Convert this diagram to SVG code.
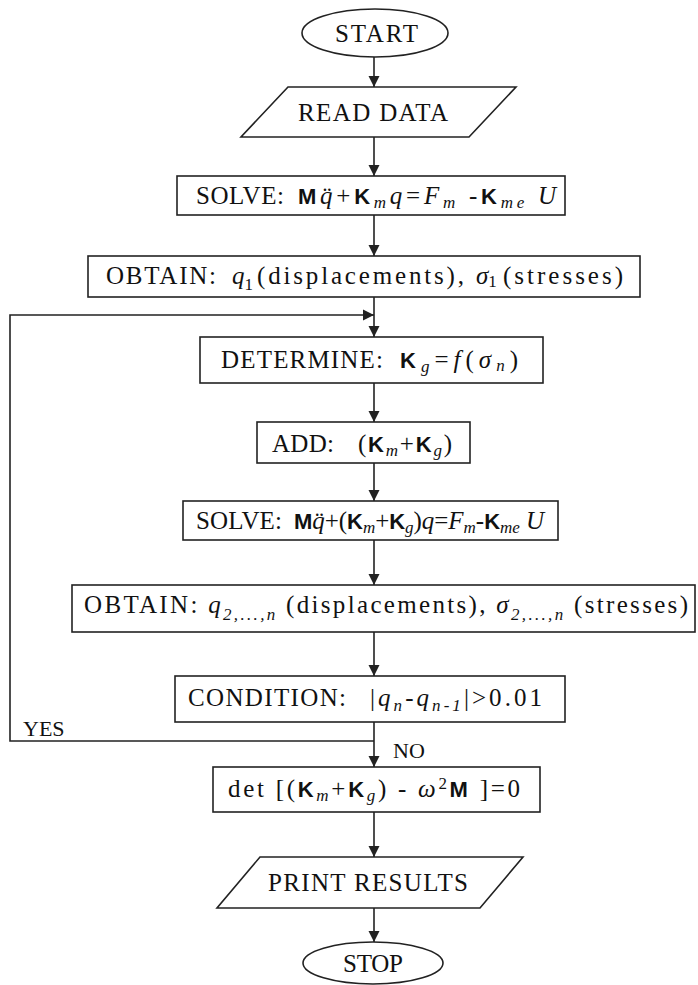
<svg xmlns="http://www.w3.org/2000/svg" width="698" height="985" viewBox="0 0 698 985">
<defs>
<marker id="ah" markerWidth="12" markerHeight="12" refX="11" refY="6" orient="auto" markerUnits="userSpaceOnUse">
<path d="M0,0.5 L11,6 L0,11.5 Z" fill="#222"/>
</marker>
<style>
.shape{fill:#fff;stroke:#222;stroke-width:1.6}
.edge{fill:none;stroke:#222;stroke-width:1.6}
.t{font-family:"Liberation Serif","Times New Roman",serif;font-size:25px;fill:#111}
.i{font-style:italic}
.b{font-family:"Liberation Sans",Arial,sans-serif;font-weight:bold;font-size:22px}
.s{font-size:17px}
.lbl{font-family:"Liberation Serif","Times New Roman",serif;font-size:22px;fill:#111}
</style>
</defs>
<rect width="698" height="985" fill="#fff"/>

<g id="connectors">
<line class="edge" x1="374" y1="57" x2="374" y2="87" marker-end="url(#ah)"/>
<line class="edge" x1="374" y1="137" x2="374" y2="176" marker-end="url(#ah)"/>
<line class="edge" x1="374" y1="215" x2="374" y2="256" marker-end="url(#ah)"/>
<line class="edge" x1="374" y1="297" x2="374" y2="337" marker-end="url(#ah)"/>
<polyline class="edge" points="374,741 10,741 10,315 374,315" marker-end="url(#ah)"/>
<line class="edge" x1="374" y1="383" x2="374" y2="422" marker-end="url(#ah)"/>
<line class="edge" x1="374" y1="463" x2="374" y2="501" marker-end="url(#ah)"/>
<line class="edge" x1="374" y1="540" x2="374" y2="585" marker-end="url(#ah)"/>
<line class="edge" x1="374" y1="632" x2="374" y2="676" marker-end="url(#ah)"/>
<line class="edge" x1="374" y1="722" x2="374" y2="767" marker-end="url(#ah)"/>
<line class="edge" x1="374" y1="812" x2="374" y2="857" marker-end="url(#ah)"/>
<line class="edge" x1="374" y1="908" x2="374" y2="942" marker-end="url(#ah)"/>
<text class="lbl" x="23" y="736">YES</text>
<text class="lbl" x="393" y="758">NO</text>
</g>

<g id="start">
<ellipse class="shape" cx="375" cy="33" rx="73" ry="24"/>
<text class="t" x="335" y="42" textLength="83" lengthAdjust="spacing">START</text>
</g>

<g id="read-data">
<polygon class="shape" points="288,87 516,87 469,137 241,137"/>
<text class="t" x="298" y="121" textLength="150" lengthAdjust="spacing">READ DATA</text>
</g>

<g id="solve1">
<rect class="shape" x="177" y="176" width="388" height="39"/>
<text class="t" x="196" y="204" textLength="88" lengthAdjust="spacing">SOLVE:</text>
<text class="t" x="298" y="204" textLength="258" lengthAdjust="spacing"><tspan class="b">M</tspan><tspan class="i">q&#x308;</tspan>+<tspan class="b">K</tspan><tspan class="i s" dy="4">m</tspan><tspan class="i" dy="-4">q</tspan>=<tspan class="i">F</tspan><tspan class="i s" dy="4">m</tspan><tspan dy="-4"> -</tspan><tspan class="b">K</tspan><tspan class="i s" dy="4">me</tspan><tspan class="i" dy="-4"> U</tspan></text>
</g>

<g id="obtain1">
<rect class="shape" x="88" y="256" width="552" height="41"/>
<text class="t" x="106" y="284" textLength="110" lengthAdjust="spacing">OBTAIN:</text>
<text class="t" x="232" y="284"><tspan class="i">q</tspan><tspan class="s" dy="6">1</tspan></text>
<text class="t" x="257" y="284" textLength="207" lengthAdjust="spacing">(displacements),</text>
<text class="t" x="476" y="284"><tspan class="i">σ</tspan><tspan class="s" dy="3">1</tspan></text>
<text class="t" x="503" y="284" textLength="120" lengthAdjust="spacing">(stresses)</text>
</g>

<g id="determine">
<rect class="shape" x="200" y="337" width="343" height="46"/>
<text class="t" x="221" y="368" textLength="162" lengthAdjust="spacing">DETERMINE:</text>
<text class="t" x="400" y="368" textLength="118" lengthAdjust="spacing"><tspan class="b">K</tspan><tspan class="i s" dy="4">g</tspan><tspan dy="-4">=</tspan><tspan class="i">f</tspan>(<tspan class="i">σ</tspan><tspan class="i s" dy="3">n</tspan><tspan dy="-3">)</tspan></text>
</g>

<g id="add">
<rect class="shape" x="257" y="422" width="213" height="41"/>
<text class="t" x="272" y="452" textLength="62" lengthAdjust="spacing">ADD:</text>
<text class="t" x="358" y="452" textLength="94" lengthAdjust="spacing">(<tspan class="b">K</tspan><tspan class="i s" dy="4">m</tspan><tspan dy="-4">+</tspan><tspan class="b">K</tspan><tspan class="i s" dy="4">g</tspan><tspan dy="-4">)</tspan></text>
</g>

<g id="solve2">
<rect class="shape" x="183" y="501" width="375" height="39"/>
<text class="t" x="196" y="529" textLength="86" lengthAdjust="spacing">SOLVE:</text>
<text class="t" x="294" y="529" textLength="250" lengthAdjust="spacing"><tspan class="b">M</tspan><tspan class="i">q&#x308;</tspan>+(<tspan class="b">K</tspan><tspan class="i s" dy="4">m</tspan><tspan dy="-4">+</tspan><tspan class="b">K</tspan><tspan class="i s" dy="4">g</tspan><tspan dy="-4">)</tspan><tspan class="i">q</tspan>=<tspan class="i">F</tspan><tspan class="i s" dy="4">m</tspan><tspan dy="-4">-</tspan><tspan class="b">K</tspan><tspan class="i s" dy="4">me</tspan><tspan class="i" dy="-4"> U</tspan></text>
</g>

<g id="obtain2">
<rect class="shape" x="72" y="585" width="623" height="47"/>
<text class="t" x="386" y="613" text-anchor="middle" textLength="604" lengthAdjust="spacing">OBTAIN:  <tspan class="i">q</tspan><tspan class="s i" dy="7">2,...,n</tspan><tspan dy="-7"> (displacements),   </tspan><tspan class="i">σ</tspan><tspan class="s i" dy="7">2,...,n</tspan><tspan dy="-7"> (stresses)</tspan></text>
</g>

<g id="condition">
<rect class="shape" x="175" y="676" width="390" height="46"/>
<text class="t" x="188" y="706" textLength="158" lengthAdjust="spacing">CONDITION:</text>
<text class="t" x="370" y="706" textLength="172" lengthAdjust="spacing">|<tspan class="i">q</tspan><tspan class="i s" dy="5">n</tspan><tspan dy="-5">-</tspan><tspan class="i">q</tspan><tspan class="i s" dy="5">n-1</tspan><tspan dy="-5">|&gt;0.01</tspan></text>
</g>

<g id="det">
<rect class="shape" x="213" y="767" width="327" height="45"/>
<text class="t" x="228" y="797" textLength="292" lengthAdjust="spacing">det [(<tspan class="b">K</tspan><tspan class="i s" dy="4">m</tspan><tspan dy="-4">+</tspan><tspan class="b">K</tspan><tspan class="i s" dy="4">g</tspan><tspan dy="-4">) - </tspan><tspan class="i">ω</tspan><tspan class="s" dy="-8">2</tspan><tspan class="b" dy="8">M</tspan> ]=0</text>
</g>

<g id="print-results">
<polygon class="shape" points="260,857 523,857 480,908 217,908"/>
<text class="t" x="268" y="891" textLength="200" lengthAdjust="spacing">PRINT RESULTS</text>
</g>

<g id="stop">
<ellipse class="shape" cx="373" cy="963" rx="70" ry="21"/>
<text class="t" x="343" y="972" textLength="60" lengthAdjust="spacing">STOP</text>
</g>
</svg>
